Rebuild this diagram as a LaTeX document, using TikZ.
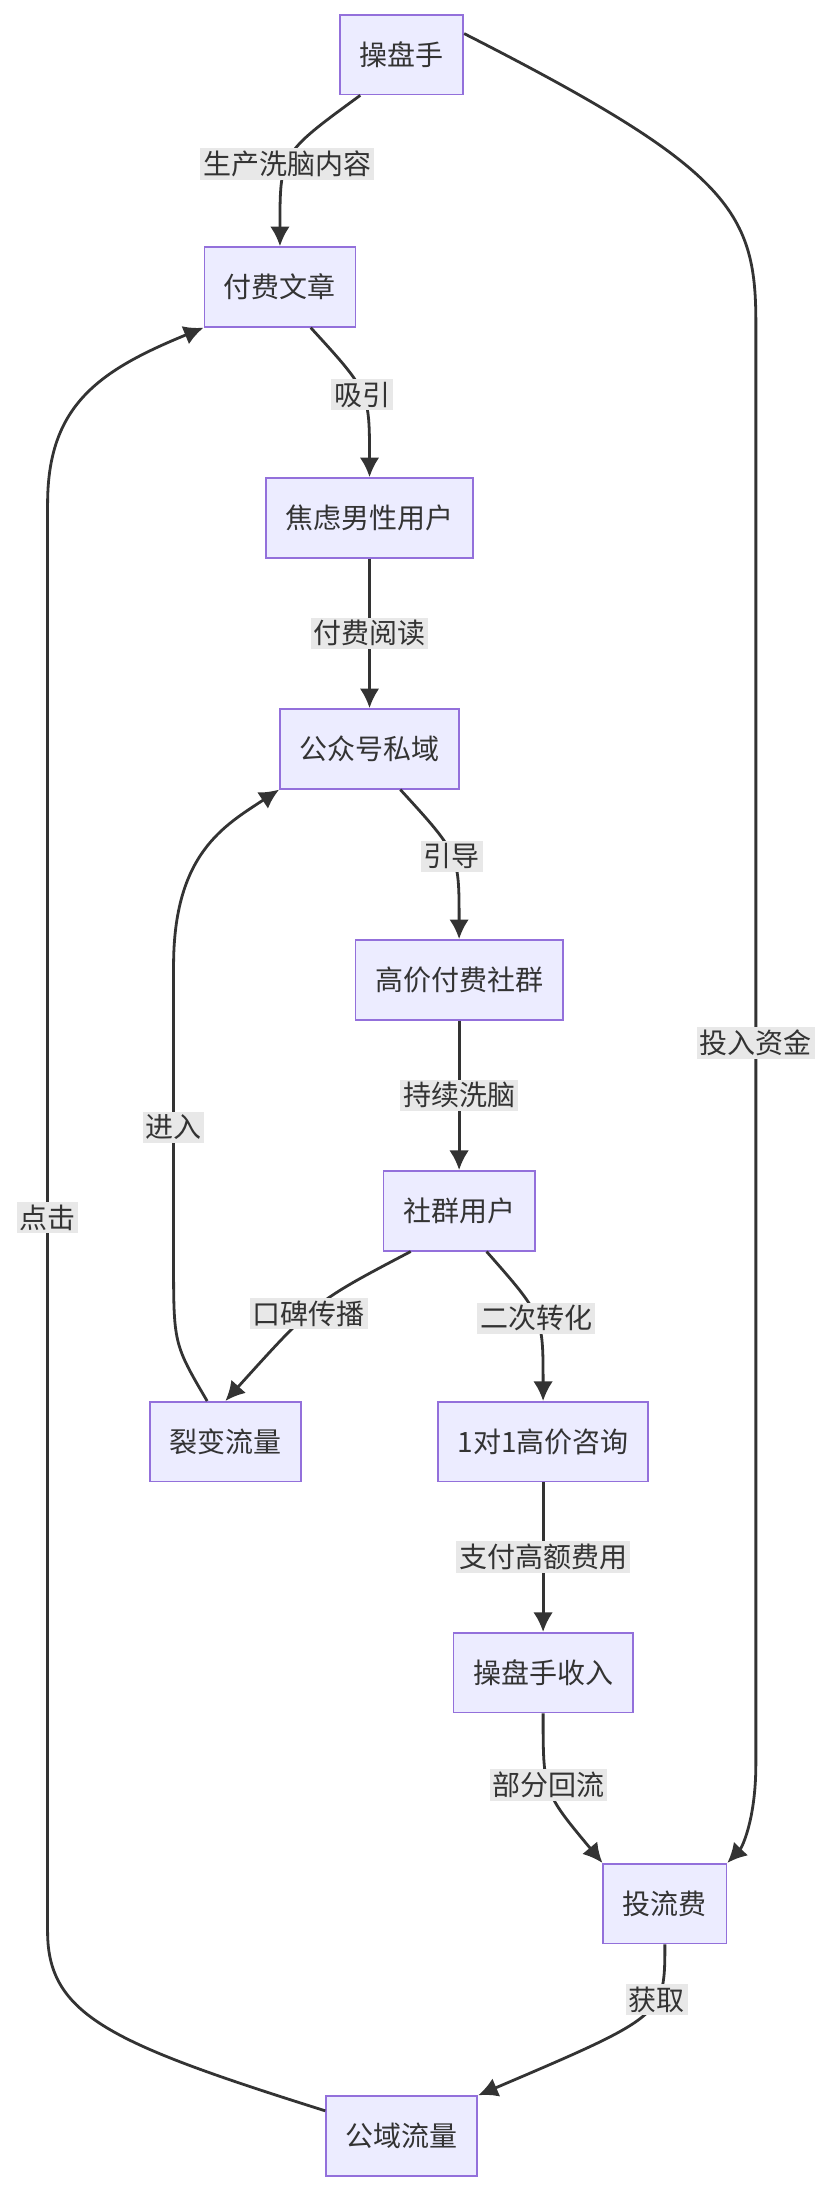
\documentclass[tikz,border=0pt]{standalone}
\usepackage{fontspec}
\setmainfont{Noto Sans CJK SC}
\usetikzlibrary{arrows.meta,positioning}
\definecolor{nodefill}{HTML}{ECECFF}
\definecolor{nodeline}{HTML}{9370DB}
\definecolor{edgeline}{HTML}{333333}
\definecolor{lblfill}{HTML}{E8E8E8}
\begin{document}
\begin{tikzpicture}[x=0.5pt,y=-0.5pt,
    box/.style={draw=nodeline,fill=nodefill,line width=0.6pt,minimum height=28.5pt,inner xsep=7pt,font=\fontsize{10}{12}\selectfont,text=edgeline},
    edge/.style={draw=edgeline,line width=1pt,-{Latex[length=7pt,width=7pt]}},
    lbl/.style={fill=lblfill,inner sep=1pt,font=\fontsize{10}{12}\selectfont,text=edgeline}]
    \useasboundingbox (0,0) rectangle (600,1576);

    % Nodes
    \node[box] (cps) at (287,39) {操盘手};
    \node[box] (ffwz) at (200,205) {付费文章};
    \node[box] (jlyh) at (264,370) {焦虑男性用户};
    \node[box] (gzh) at (264,535) {公众号私域};
    \node[box] (sq) at (328,700) {高价付费社群};
    \node[box] (sqyh) at (328,865) {社群用户};
    \node[box] (lb) at (161,1030) {裂变流量};
    \node[box] (zx) at (388,1030) {1对1高价咨询};
    \node[box] (sr) at (388,1195) {操盘手收入};
    \node[box] (tlf) at (475,1360) {投流费};
    \node[box] (gy) at (287,1526) {公域流量};

    % Edges
    \draw[edge] (cps.south west) ++(15,0) .. controls (200,110) .. (ffwz.north)
        node[lbl,pos=0.55] {生产洗脑内容};
    \draw[edge] (ffwz.south) ++(22,0) .. controls (264,280) .. (jlyh.north)
        node[lbl,pos=0.5] {吸引};
    \draw[edge] (jlyh) -- (gzh) node[lbl,midway] {付费阅读};
    \draw[edge] (gzh.south) ++(22,0) .. controls (328,610) .. (sq.north)
        node[lbl,pos=0.5] {引导};
    \draw[edge] (sq) -- (sqyh) node[lbl,midway] {持续洗脑};
    \draw[edge] (sqyh.south west) ++(20,0) .. controls (225,930) .. (lb.north)
        node[lbl,pos=0.55] {口碑传播};
    \draw[edge] (sqyh.south east) ++(-35,0) .. controls (388,940) .. (zx.north)
        node[lbl,pos=0.5] {二次转化};
    \draw[edge] (zx) -- (sr) node[lbl,midway] {支付高额费用};
    \draw[edge] (sr.south) .. controls (388,1280) .. (tlf.north west)
        node[lbl,pos=0.45] {部分回流};
    \draw[edge] (tlf.south) .. controls (475,1440) .. (gy.north east)
        node[lbl,pos=0.35] {获取};
    \draw[edge] (cps.east) ++(0,-15) .. controls (520,120) and (540,150) .. (540,230)
        -- (540,1260) node[lbl,midway] {投入资金}
        .. controls (540,1300) and (530,1320) .. (tlf.north east);
    \draw[edge] (lb.north) ++(-13,0) .. controls (124,960) .. (124,900)
        -- (124,690) node[lbl,pos=0.45] {进入}
        .. controls (124,610) and (160,590) .. (gzh.south west);
    \draw[edge] (gy.west) ++(0,-18) .. controls (80,1460) and (34,1440) .. (34,1380)
        -- (34,360) node[lbl,pos=0.5] {点击}
        .. controls (34,290) and (70,265) .. (ffwz.south west);
\end{tikzpicture}
\end{document}
